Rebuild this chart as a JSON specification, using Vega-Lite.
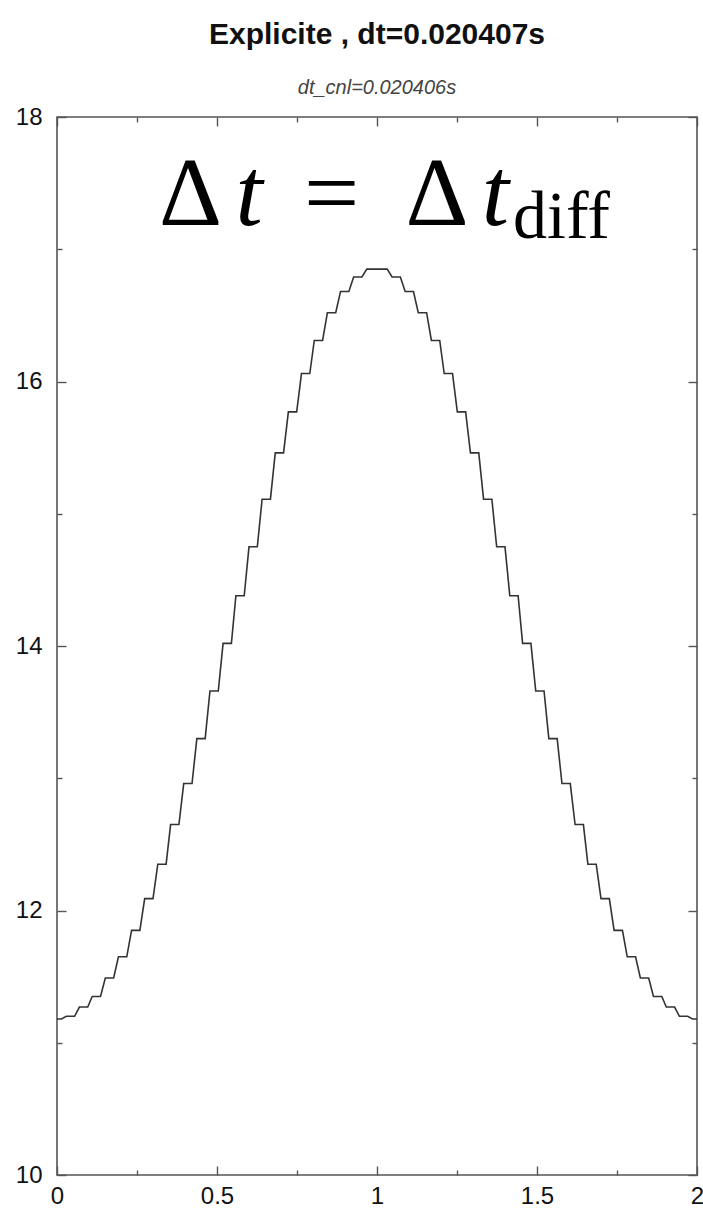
{
  "$schema": "https://vega.github.io/schema/vega-lite/v6.json",
  "autosize": "none",
  "width": 640,
  "height": 1058,
  "padding": {"left": 57, "top": 117, "right": 6, "bottom": 36},
  "background": "white",
  "title": {
    "text": "Explicite , dt=0.020407s",
    "subtitle": "dt_cnl=0.020406s",
    "anchor": "middle",
    "offset": 7,
    "subtitlePadding": 28
  },
  "config": {
    "view": {"stroke": "#555", "strokeWidth": 1.6},
    "title": {
      "font": "Liberation Sans",
      "fontSize": 30,
      "fontWeight": "bold",
      "color": "#111",
      "subtitleFont": "Liberation Sans",
      "subtitleFontSize": 20,
      "subtitleFontStyle": "italic",
      "subtitleColor": "#444"
    },
    "axis": {
      "grid": false,
      "domain": false,
      "tickColor": "#555",
      "tickWidth": 1.4,
      "labelFont": "Liberation Sans",
      "labelFontSize": 24,
      "labelColor": "#111",
      "labelFlush": false,
      "labelOverlap": false,
      "labelBound": false,
      "title": null
    }
  },
  "datasets": {
    "curve": [
      {"x": 0.000, "y": 11.18}, {"x": 0.014, "y": 11.18},
      {"x": 0.029, "y": 11.20}, {"x": 0.055, "y": 11.20},
      {"x": 0.070, "y": 11.27}, {"x": 0.096, "y": 11.27},
      {"x": 0.110, "y": 11.35}, {"x": 0.136, "y": 11.35},
      {"x": 0.151, "y": 11.49}, {"x": 0.177, "y": 11.49},
      {"x": 0.192, "y": 11.65}, {"x": 0.218, "y": 11.65},
      {"x": 0.233, "y": 11.85}, {"x": 0.259, "y": 11.85},
      {"x": 0.274, "y": 12.09}, {"x": 0.300, "y": 12.09},
      {"x": 0.315, "y": 12.35}, {"x": 0.341, "y": 12.35},
      {"x": 0.355, "y": 12.65}, {"x": 0.381, "y": 12.65},
      {"x": 0.396, "y": 12.96}, {"x": 0.422, "y": 12.96},
      {"x": 0.437, "y": 13.30}, {"x": 0.463, "y": 13.30},
      {"x": 0.478, "y": 13.66}, {"x": 0.504, "y": 13.66},
      {"x": 0.519, "y": 14.02}, {"x": 0.545, "y": 14.02},
      {"x": 0.559, "y": 14.38}, {"x": 0.585, "y": 14.38},
      {"x": 0.600, "y": 14.75}, {"x": 0.626, "y": 14.75},
      {"x": 0.641, "y": 15.11}, {"x": 0.667, "y": 15.11},
      {"x": 0.682, "y": 15.46}, {"x": 0.708, "y": 15.46},
      {"x": 0.723, "y": 15.77}, {"x": 0.749, "y": 15.77},
      {"x": 0.764, "y": 16.06}, {"x": 0.790, "y": 16.06},
      {"x": 0.804, "y": 16.31}, {"x": 0.830, "y": 16.31},
      {"x": 0.845, "y": 16.52}, {"x": 0.871, "y": 16.52},
      {"x": 0.886, "y": 16.68}, {"x": 0.912, "y": 16.68},
      {"x": 0.927, "y": 16.79}, {"x": 0.953, "y": 16.79},
      {"x": 0.968, "y": 16.85}, {"x": 0.994, "y": 16.85},
      {"x": 1.006, "y": 16.85}, {"x": 1.032, "y": 16.85},
      {"x": 1.047, "y": 16.79}, {"x": 1.073, "y": 16.79},
      {"x": 1.088, "y": 16.68}, {"x": 1.114, "y": 16.68},
      {"x": 1.129, "y": 16.52}, {"x": 1.155, "y": 16.52},
      {"x": 1.170, "y": 16.31}, {"x": 1.196, "y": 16.31},
      {"x": 1.210, "y": 16.06}, {"x": 1.236, "y": 16.06},
      {"x": 1.251, "y": 15.77}, {"x": 1.277, "y": 15.77},
      {"x": 1.292, "y": 15.46}, {"x": 1.318, "y": 15.46},
      {"x": 1.333, "y": 15.11}, {"x": 1.359, "y": 15.11},
      {"x": 1.374, "y": 14.75}, {"x": 1.400, "y": 14.75},
      {"x": 1.415, "y": 14.38}, {"x": 1.441, "y": 14.38},
      {"x": 1.455, "y": 14.02}, {"x": 1.481, "y": 14.02},
      {"x": 1.496, "y": 13.66}, {"x": 1.522, "y": 13.66},
      {"x": 1.537, "y": 13.30}, {"x": 1.563, "y": 13.30},
      {"x": 1.578, "y": 12.96}, {"x": 1.604, "y": 12.96},
      {"x": 1.619, "y": 12.65}, {"x": 1.645, "y": 12.65},
      {"x": 1.659, "y": 12.35}, {"x": 1.685, "y": 12.35},
      {"x": 1.700, "y": 12.09}, {"x": 1.726, "y": 12.09},
      {"x": 1.741, "y": 11.85}, {"x": 1.767, "y": 11.85},
      {"x": 1.782, "y": 11.65}, {"x": 1.808, "y": 11.65},
      {"x": 1.823, "y": 11.49}, {"x": 1.849, "y": 11.49},
      {"x": 1.864, "y": 11.35}, {"x": 1.890, "y": 11.35},
      {"x": 1.904, "y": 11.27}, {"x": 1.930, "y": 11.27},
      {"x": 1.945, "y": 11.20}, {"x": 1.971, "y": 11.20},
      {"x": 1.986, "y": 11.18}, {"x": 2.000, "y": 11.18}
    ],
    "note": [
      {"part": "Δ", "px": 0.4175, "py": 17.183},
      {"part": "t", "px": 0.6, "py": 17.183},
      {"part": "=", "px": 0.858, "py": 17.183},
      {"part": "Δ", "px": 1.1875, "py": 17.183},
      {"part": "t", "px": 1.37, "py": 17.183},
      {"part": "diff", "px": 1.425, "py": 17.085}
    ]
  },
  "resolve": {"axis": {"x": "independent", "y": "independent"}},
  "layer": [
    {
      "data": {"name": "curve"},
      "mark": {"type": "line", "color": "#333", "strokeWidth": 1.6, "interpolate": "linear", "clip": true},
      "encoding": {
        "x": {
          "field": "x", "type": "quantitative",
          "scale": {"domain": [0, 2], "nice": false, "zero": false},
          "axis": {
            "orient": "bottom",
            "values": [0, 0.25, 0.5, 0.75, 1, 1.25, 1.5, 1.75, 2],
            "tickSize": {"condition": {"test": "datum.value % 0.5 !== 0", "value": -5}, "value": -9},
            "labelExpr": "datum.value % 0.5 === 0 ? format(datum.value, '~g') : ''",
            "labelPadding": 18
          }
        },
        "y": {
          "field": "y", "type": "quantitative",
          "scale": {"domain": [10, 18], "nice": false, "zero": false},
          "axis": {
            "orient": "left",
            "values": [10, 11, 12, 13, 14, 15, 16, 17, 18],
            "tickSize": {"condition": {"test": "datum.value % 2 !== 0", "value": -5}, "value": -9},
            "labelExpr": "datum.value % 2 === 0 ? format(datum.value, '~g') : ''",
            "labelPadding": 24
          }
        }
      }
    },
    {
      "data": {"name": "note"},
      "encoding": {
        "x": {
          "field": "px", "type": "quantitative",
          "scale": {"domain": [0, 2], "nice": false, "zero": false},
          "axis": {
            "orient": "top",
            "values": [0, 0.25, 0.5, 0.75, 1, 1.25, 1.5, 1.75, 2],
            "tickSize": {"condition": {"test": "datum.value % 0.5 !== 0", "value": -5}, "value": -9},
            "labels": false
          }
        },
        "y": {
          "field": "py", "type": "quantitative",
          "scale": {"domain": [10, 18], "nice": false, "zero": false},
          "axis": {
            "orient": "right",
            "values": [10, 11, 12, 13, 14, 15, 16, 17, 18],
            "tickSize": {"condition": {"test": "datum.value % 2 !== 0", "value": -5}, "value": -9},
            "labels": false
          }
        },
        "text": {"field": "part"}
      },
      "layer": [
        {
          "transform": [{"filter": "datum.part === 'Δ' || datum.part === '='"}],
          "mark": {"type": "text", "font": "Liberation Serif", "fontSize": 98, "align": "center", "baseline": "alphabetic", "color": "#000"}
        },
        {
          "transform": [{"filter": "datum.part === 't'"}],
          "mark": {"type": "text", "font": "Liberation Serif", "fontStyle": "italic", "fontSize": 98, "align": "center", "baseline": "alphabetic", "color": "#000"}
        },
        {
          "transform": [{"filter": "datum.part === 'diff'"}],
          "mark": {"type": "text", "font": "Liberation Serif", "fontSize": 68, "align": "left", "baseline": "alphabetic", "color": "#000"}
        }
      ]
    }
  ]
}
